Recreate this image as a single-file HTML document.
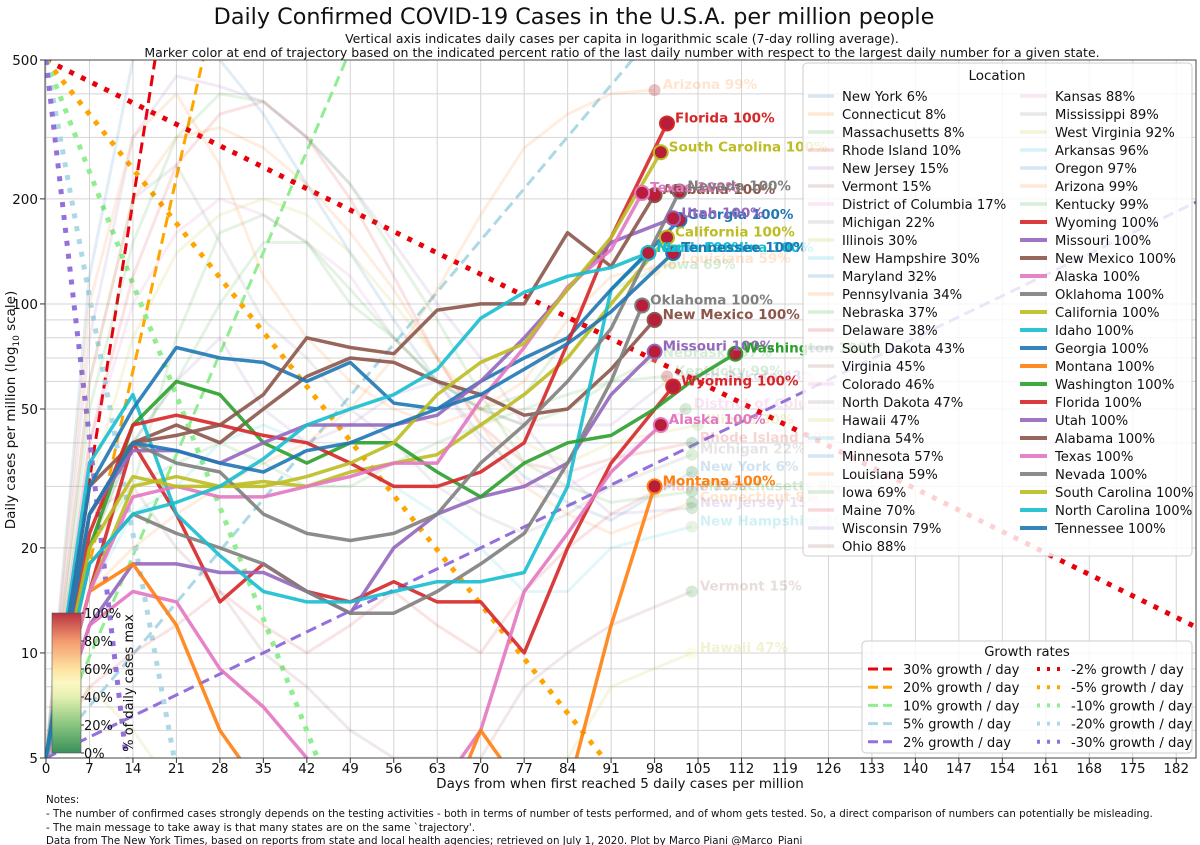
<!DOCTYPE html>
<html><head><meta charset="utf-8"><style>
html,body{margin:0;padding:0;background:#fff;}
svg{display:block;font-family:"DejaVu Sans","Liberation Sans",sans-serif;}
</style></head><body>
<svg id="chart" width="1200" height="845" viewBox="0 0 1200 845" xmlns="http://www.w3.org/2000/svg">
<defs>
<clipPath id="plotclip"><rect x="45" y="60" width="1151" height="698"/></clipPath>
<linearGradient id="cbgrad" x1="0" y1="1" x2="0" y2="0">
<stop offset="0" stop-color="#3a8f5a"/><stop offset="0.2" stop-color="#88c580"/><stop offset="0.4" stop-color="#e3f0b0"/><stop offset="0.5" stop-color="#fbf8c4"/><stop offset="0.6" stop-color="#fde3a0"/><stop offset="0.8" stop-color="#f49a70"/><stop offset="1" stop-color="#b8333f"/>
</linearGradient>
</defs>
<text x="574" y="24" text-anchor="middle" font-size="22.3" fill="#111">Daily Confirmed COVID-19 Cases in the U.S.A. per million people</text>
<text x="622" y="43" text-anchor="middle" font-size="12.5" fill="#111">Vertical axis indicates daily cases per capita in logarithmic scale (7-day rolling average).</text>
<text x="622" y="57" text-anchor="middle" font-size="12.5" fill="#111">Marker color at end of trajectory based on the indicated percent ratio of the last daily number with respect to the largest daily number for a given state.</text>
<g id="grid"></g>
<g id="growth" clip-path="url(#plotclip)"></g>
<g id="faded" clip-path="url(#plotclip)"></g>
<g id="bold" clip-path="url(#plotclip)"></g>
<g id="labels"></g>
<rect x="45" y="60" width="1151" height="698" fill="none" stroke="#444" stroke-width="1"/>
<g id="axes"></g>
<text transform="translate(15,410) rotate(-90)" text-anchor="middle" font-size="13.5" fill="#111">Daily cases per million (log<tspan font-size="9" dy="4">10</tspan><tspan dy="-4"> scale)</tspan></text>
<text x="620" y="788" text-anchor="middle" font-size="13.5" fill="#111">Days from when first reached 5 daily cases per million</text>
<g font-size="10.3" fill="#111">
<text x="46" y="803">Notes:</text>
<text x="46" y="817">- The number of confirmed cases strongly depends on the testing activities - both in terms of number of tests performed, and of whom gets tested. So, a direct comparison of numbers can potentially be misleading.</text>
<text x="46" y="831">- The main message to take away is that many states are on the same `trajectory'.</text>
<text x="46" y="844">Data from The New York Times, based on reports from state and local health agencies; retrieved on July 1, 2020. Plot by Marco Piani @Marco_Piani</text>
</g>
<g id="colorbar">
<rect x="52" y="613" width="29" height="140" fill="url(#cbgrad)" stroke="#555" stroke-width="0.6"/>
<text x="129" y="687" transform="rotate(-90,129,683)" text-anchor="middle" font-size="13" fill="#111">% of daily cases max</text>
</g>
<g id="legend1"></g>
<g id="legend2"></g>
</svg>
<script>
// ---- data ----
const weekDays = [0,7,14,21,28,35,42,49,56,63,70,77,84,91,98,105];
const tickDays = [0,7,14,21,28,35,42,49,56,63,70,77,84,91,98,105,112,119,126,133,140,147,154,161,168,175,182];
const yTickVals = [5,10,20,50,100,200,500];
const growthPos = [0.30,0.20,0.10,0.05,0.02];
const growthNeg = [-0.02,-0.05,-0.10,-0.20,-0.30];
const growthColors = ["#e8000b","#ffa500","#90ee90","#add8e6","#9370db"];

const boldNames = ["Wyoming","Missouri","New Mexico","Alaska","Oklahoma","California","Idaho","Georgia","Montana","Washington","Florida","Utah","Alabama","Texas","Nevada","South Carolina","North Carolina","Tennessee"];
const boldColors = ["#d62728","#9467bd","#8c564b","#e377c2","#7f7f7f","#bcbd22","#17becf","#1f77b4","#ff7f0e","#2ca02c","#d62728","#9467bd","#8c564b","#e377c2","#7f7f7f","#bcbd22","#17becf","#1f77b4"];
const boldVals = [
 [5,15,40,25,14,18,15,14,16,14,14,10,20,35],
 [5,12,18,18,17,17,15,13,20,25,28,30,35,55],
 [5,30,40,45,40,50,62,70,68,60,55,48,50,65],
 [5,12,15,14,9,7,5,4,4,4,6,15,22,33],
 [5,18,25,22,20,18,15,13,13,15,18,22,35,60],
 [5,15,30,32,30,31,30,33,35,37,45,55,70,100],
 [5,35,55,25,19,15,14,14,15,16,16,17,30,110],
 [5,30,50,75,70,68,60,68,52,50,60,70,80,110],
 [5,15,18,12,6,4,3,3,3,3,6,4,4,12],
 [5,20,45,60,55,40,35,40,40,33,28,35,40,42,50,62],
 [5,22,45,48,45,42,40,35,30,30,33,40,77,155],
 [5,25,38,38,35,40,45,45,45,48,60,80,110,150],
 [5,25,40,42,45,55,80,75,72,96,100,100,160,128],
 [5,15,28,30,28,28,30,32,35,35,53,75,112,143],
 [5,25,40,35,33,25,22,21,22,25,35,45,60,85],
 [5,20,32,30,30,30,32,35,40,55,68,77,110,155],
 [5,18,25,27,30,36,45,50,55,65,91,108,120,127],
 [5,25,40,38,35,33,38,40,45,50,55,65,77,95]
];
const boldEndDay = [101,98,98,99,96,100,97,102,98,111,100,101,98,96,102,99,97,101];
const boldEndVal = [58,73,90,45,99,155,140,174,30,72,329,176,205,208,210,272,140,140];

const fadedNames = ["New York","Connecticut","Massachusetts","Rhode Island","New Jersey","Vermont","District of Columbia","Michigan","Illinois","New Hampshire","Nebraska","South Dakota","Hawaii","Louisiana","Iowa","Maine","Arizona","Kentucky"];
const fadedColors = ["#1f77b4","#ff7f0e","#2ca02c","#d62728","#9467bd","#8c564b","#e377c2","#7f7f7f","#bcbd22","#17becf","#2ca02c","#9467bd","#bcbd22","#ff7f0e","#2ca02c","#d62728","#ff7f0e","#2ca02c"];
const fadedPct = [6,8,8,10,15,15,17,22,30,30,37,43,47,59,69,70,99,99];
const fadedVals = [
 [5,120,500,700,500,350,220,140,90,60,42,32,27,24],
 [5,60,200,300,320,280,220,160,110,70,45,30,25,22],
 [5,50,150,300,400,380,300,220,140,90,55,35,30,27],
 [5,40,120,250,350,380,300,200,120,70,45,35,33,36],
 [5,80,300,450,420,380,300,220,150,100,70,45,32,25],
 [5,25,30,20,15,10,8,6,5,5,5,8,10,12],
 [5,40,100,160,200,180,150,120,80,60,40,30,30,35],
 [5,60,200,250,150,90,70,50,40,30,25,22,25,30],
 [5,30,80,140,180,200,180,140,100,70,50,40,35,40],
 [5,15,25,30,40,45,40,35,30,25,20,15,15,20],
 [5,15,30,80,160,180,150,100,80,60,50,45,50,60],
 [5,20,40,60,80,50,40,45,55,60,50,45,45,45],
 [5,8,6,4,3,3,3,3,3,3,3,3,5,8],
 [5,100,300,400,250,120,80,60,50,45,50,60,90,120],
 [5,20,40,60,100,150,150,110,80,60,50,55,80,110],
 [5,8,10,12,15,12,10,12,15,12,10,15,20,25],
 [5,15,20,25,30,35,40,50,70,110,180,280,350,400],
 [5,20,30,35,40,35,30,30,35,40,45,50,55,60]
];
const fadedEndDay = [104,104,104,104,104,104,103,104,105,104,98,100,104,101,98,98,98,100];
const fadedEndVal = [33,27,29,40,26,15,50,37,45,23,70,60,10,130,125,29,410,62];

const legendCol1 = ["New York 6%","Connecticut 8%","Massachusetts 8%","Rhode Island 10%","New Jersey 15%","Vermont 15%","District of Columbia 17%","Michigan 22%","Illinois 30%","New Hampshire 30%","Maryland 32%","Pennsylvania 34%","Nebraska 37%","Delaware 38%","South Dakota 43%","Virginia 45%","Colorado 46%","North Dakota 47%","Hawaii 47%","Indiana 54%","Minnesota 57%","Louisiana 59%","Iowa 69%","Maine 70%","Wisconsin 79%","Ohio 88%"];
const legendCol2Faded = ["Kansas 88%","Mississippi 89%","West Virginia 92%","Arkansas 96%","Oregon 97%","Arizona 99%","Kentucky 99%"];
const cbTicks = [0,20,40,60,80,100];

// ---- scales ----
const NS = "http://www.w3.org/2000/svg";
const X = d => 46 + 6.21 * d;
const Y = v => 60 + 349 * (Math.log10(500) - Math.log10(v));
function mk(tag, parent, attrs) {
  const e = document.createElementNS(NS, tag);
  for (const k in attrs) e.setAttribute(k, attrs[k]);
  parent.appendChild(e);
  return e;
}
const tab10 = ["#1f77b4","#ff7f0e","#2ca02c","#d62728","#9467bd","#8c564b","#e377c2","#7f7f7f","#bcbd22","#17becf"];
function cmap(p){
  const stops=[[0,[58,143,90]],[20,[136,197,128]],[40,[227,240,176]],[50,[251,248,196]],[60,[253,227,160]],[80,[244,154,112]],[100,[184,51,63]]];
  for(let i=1;i<stops.length;i++){ if(p<=stops[i][0]){const a=stops[i-1],b=stops[i],t=(p-a[0])/(b[0]-a[0]);return "rgb("+a[1].map((c,j)=>Math.round(c+(b[1][j]-c)*t)).join(",")+")";}}
  return "rgb(184,51,63)";
}

// ---- grid ----
const grid = document.getElementById("grid");
tickDays.forEach(d => {
  const l = mk("line", grid, {x1:X(d), x2:X(d), y1:60, y2:758, stroke:"#d4d4d4", "stroke-width":1});
  
  
});
[6,7,8,9,10,20,30,40,50,60,70,80,90,100,200,300,400].forEach(v => {
  const l = mk("line", grid, {x1:45, x2:1196, y1:Y(v), y2:Y(v), stroke:"#d4d4d4", "stroke-width":1});
  
  
});

// ---- axes ----
const axes = document.getElementById("axes");
tickDays.forEach(d => {
  mk("line", axes, {x1:X(d), x2:X(d), y1:758, y2:763, stroke:"#333"});
  const t = mk("text", axes, {x:X(d), y:773, "text-anchor":"middle", "font-size":13.5, fill:"#111"});
  t.textContent = d;
  
  
});
yTickVals.forEach(v => {
  mk("line", axes, {x1:40, x2:45, y1:Y(v), y2:Y(v), stroke:"#333"});
  const t = mk("text", axes, {x:38, y:Y(v)+5, "text-anchor":"end", "font-size":13.5, fill:"#111"});
  t.textContent = v;
  
  
});

// ---- growth lines ----
const gg = document.getElementById("growth");
function growthPath(v0, r){
  const pts=[]; for(let d=0; d<=186; d+=0.5){ const v=v0*Math.pow(1+r,d); if(v>800||v<3) {if(pts.length) {pts.push([X(d),Y(v)]); break;} else continue;} pts.push([X(d),Y(v)]); }
  return "M"+pts.map(p=>p[0].toFixed(1)+","+p[1].toFixed(1)).join("L");
}
growthPos.forEach((r,i) => {
  const p = mk("path", gg, {d:growthPath(5,r), fill:"none", stroke:growthColors[i], "stroke-width":3, "stroke-dasharray":"11,6"});
  
  
});
growthNeg.forEach((r,i) => {
  const p = mk("path", gg, {d:growthPath(500,r), fill:"none", stroke:growthColors[i], "stroke-width":5, "stroke-dasharray":"5,8"});
  
  
});

// ---- series ----
function seriesPath(vals, ed, ev){
  const pts = vals.map((v,i)=>[X(weekDays[i]), Y(Math.max(v,1))]);
  pts.push([X(ed), Y(ev)]);
  return "M"+pts.map(p=>p[0].toFixed(1)+","+p[1].toFixed(1)).join("L");
}
const fg = document.getElementById("faded"), bg = document.getElementById("bold"), lg = document.getElementById("labels");
fadedNames.forEach((n,i) => {
  const p = mk("path", fg, {d:seriesPath(fadedVals[i], fadedEndDay[i], fadedEndVal[i]), fill:"none", stroke:fadedColors[i], "stroke-width":3, "stroke-opacity":0.13, "stroke-linejoin":"round"});
  
  
  const c = mk("circle", fg, {cx:X(fadedEndDay[i]), cy:Y(fadedEndVal[i]), r:6, fill:cmap(fadedPct[i]), "fill-opacity":0.3});
  
  
  const t = mk("text", lg, {x:X(fadedEndDay[i])+8, y:Y(fadedEndVal[i])-1, "font-size":13.5, "font-weight":"bold", fill:fadedColors[i], "fill-opacity":0.2});
  t.textContent = n + " " + fadedPct[i] + "%";
  
  
});
boldNames.forEach((n,i) => {
  const p = mk("path", bg, {d:seriesPath(boldVals[i], boldEndDay[i], boldEndVal[i]), fill:"none", stroke:boldColors[i], "stroke-width":3.5, "stroke-opacity":0.9, "stroke-linejoin":"round"});
  
  
});
boldNames.forEach((n,i) => {
  const c = mk("circle", bg, {cx:X(boldEndDay[i]), cy:Y(boldEndVal[i]), r:7, fill:"#b81d3a", stroke:boldColors[i], "stroke-width":2});
  
  
  const t = mk("text", lg, {x:X(boldEndDay[i])+8, y:Y(boldEndVal[i])-1, "font-size":13.5, "font-weight":"bold", fill:boldColors[i]});
  t.textContent = n + " 100%";
  
  
});

// ---- colorbar ticks ----
const cb = document.getElementById("colorbar");
cbTicks.forEach(p => {
  const y = 753 - 140*p/100;
  mk("line", cb, {x1:81, x2:84, y1:y, y2:y, stroke:"#333"});
  const t = mk("text", cb, {x:84, y:y+5, "font-size":13, fill:"#111"});
  t.textContent = p + "%";
  
  
});

// ---- location legend ----
const L1 = document.getElementById("legend1");
mk("rect", L1, {x:803, y:63, width:389, height:493, rx:4, fill:"#fff", "fill-opacity":0.82, stroke:"#ccc"});
const lt = mk("text", L1, {x:997, y:80, "text-anchor":"middle", "font-size":13.5, fill:"#111"});
lt.textContent = "Location";
legendCol1.forEach((s,i) => {
  const y = 96 + i*18;
  mk("line", L1, {x1:808, x2:834, y1:y, y2:y, stroke:tab10[i%10], "stroke-width":3.5, "stroke-opacity":0.18});
  const t = mk("text", L1, {x:842, y:y+5, "font-size":13.2, fill:"#111"});
  t.textContent = s;
  
  
});
const col2 = legendCol2Faded.concat(boldNames.map(n => n + " 100%"));
col2.forEach((s,i) => {
  const y = 96 + i*18;
  const bold = i >= legendCol2Faded.length;
  mk("line", L1, {x1:1020, x2:1047, y1:y, y2:y, stroke:tab10[(i+6)%10], "stroke-width":bold?4:3.5, "stroke-opacity":bold?0.9:0.18});
  const t = mk("text", L1, {x:1055, y:y+5, "font-size":13.2, fill:"#111"});
  t.textContent = s;
  
  
});

// ---- growth legend ----
const L2 = document.getElementById("legend2");
mk("rect", L2, {x:862, y:641, width:330, height:112, rx:4, fill:"#fff", "fill-opacity":0.82, stroke:"#ccc"});
const gt = mk("text", L2, {x:1027, y:656, "text-anchor":"middle", "font-size":13.2, fill:"#111"});
gt.textContent = "Growth rates";
growthPos.forEach((r,i) => {
  const y = 669 + i*18.2;
  mk("line", L2, {x1:868, x2:892, y1:y, y2:y, stroke:growthColors[i], "stroke-width":3, "stroke-dasharray":"10,5"});
  const t = mk("text", L2, {x:903, y:y+5, "font-size":13.2, fill:"#111"});
  t.textContent = Math.round(r*100) + "% growth / day";
  
  
  mk("line", L2, {x1:1037, x2:1062, y1:y, y2:y, stroke:growthColors[i], "stroke-width":4, "stroke-dasharray":"3,7"});
  const t2 = mk("text", L2, {x:1071, y:y+5, "font-size":13.2, fill:"#111"});
  t2.textContent = Math.round(growthNeg[i]*100) + "% growth / day";
  
  
});
</script>
</body></html>
